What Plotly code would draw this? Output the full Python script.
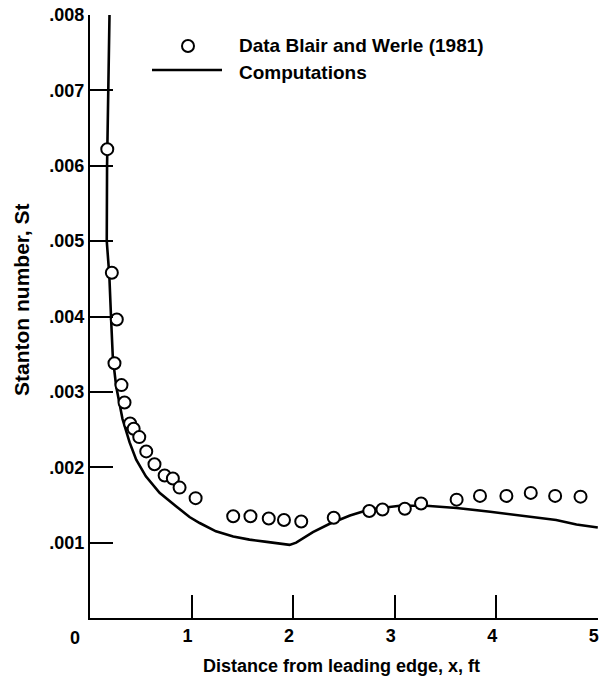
import plotly.graph_objects as go

# Experimental data, Blair and Werle (1981)
data_x = [0.17, 0.215, 0.264, 0.241, 0.31, 0.34, 0.395, 0.43, 0.485, 0.554, 0.635,
          0.735, 0.816, 0.882, 1.04, 1.41, 1.58, 1.76, 1.91, 2.08, 2.40, 2.75, 2.88,
          3.10, 3.26, 3.61, 3.84, 4.10, 4.34, 4.58, 4.83]
data_st = [0.00622, 0.00458, 0.00396, 0.00338, 0.00309, 0.00286, 0.00258, 0.00251,
           0.00240, 0.00221, 0.00204, 0.00189, 0.00185, 0.00173, 0.00159, 0.00135,
           0.00135, 0.00132, 0.00130, 0.00128, 0.00133, 0.00142, 0.00144, 0.00145,
           0.00152, 0.00157, 0.00162, 0.00162, 0.00166, 0.00162, 0.00161]

# Computations
comp_x = [0.192, 0.178, 0.168, 0.165, 0.19, 0.21, 0.225, 0.258, 0.32, 0.39, 0.455,
          0.55, 0.685, 0.85, 0.98, 1.08, 1.24, 1.41, 1.57, 1.74, 1.965, 2.03, 2.195,
          2.36, 2.56, 2.75, 3.05, 3.31, 3.61, 3.94, 4.26, 4.59, 4.79, 5.0]
comp_st = [0.0080, 0.0070, 0.0060, 0.0050, 0.00455, 0.00390, 0.00345, 0.00307,
           0.00264, 0.00233, 0.00210, 0.00188, 0.00166, 0.00148, 0.00134, 0.00126,
           0.00115, 0.00108, 0.00104, 0.00101, 0.00097, 0.00100, 0.00114, 0.00125,
           0.00136, 0.00144, 0.00149, 0.00149, 0.00146, 0.00141, 0.00136, 0.00130,
           0.00124, 0.00120]

y_ticks = [0.001, 0.002, 0.003, 0.004, 0.005, 0.006, 0.007, 0.008]
y_ticktext = [".001", ".002", ".003", ".004", ".005", ".006", ".007", ".008"]
x_ticks = [1, 2, 3, 4, 5]
x_ticktext = ["1", "2", "3", "4", "5"]

FONT = "Liberation Sans"
W, H = 601, 678
ML, MR, MT, MB = 90, 3, 15, 60
PW, PH = W - ML - MR, H - MT - MB


def px(xpix):
    return (xpix - ML) / PW


def py(ypix):
    return (H - MB - ypix) / PH


def bold(size):
    return dict(family=FONT, size=size, color="black", weight="bold")


fig = go.Figure()
fig.add_trace(go.Scatter(x=comp_x, y=comp_st, mode="lines",
                         line=dict(color="black", width=2.6),
                         name="Computations", showlegend=False))
fig.add_trace(go.Scatter(x=data_x, y=data_st, mode="markers",
                         marker=dict(symbol="circle", size=12, color="white",
                                     line=dict(color="black", width=2)),
                         name="Data Blair and Werle (1981)", showlegend=False,
                         cliponaxis=False))

axis_common = dict(showgrid=False, zeroline=False, showline=True, linecolor="black",
                   linewidth=2, ticks="inside", ticklen=23, tickwidth=2,
                   tickcolor="black", mirror=False, automargin=False,
                   ticklabeloverflow="allow")

fig.update_xaxes(range=[0, 5.002], tickvals=x_ticks, ticktext=x_ticktext,
                 tickfont=bold(18), ticklabelshift=-4, **axis_common)
fig.update_yaxes(range=[0, 0.008], tickvals=y_ticks, ticktext=y_ticktext,
                 tickfont=bold(18), **axis_common)

annotations = [
    dict(text="0", x=px(75), y=py(638), xref="paper", yref="paper", showarrow=False,
         xanchor="center", yanchor="middle", font=bold(18)),
    dict(text="Distance from leading edge, x, ft", x=px(341), y=py(666),
         xref="paper", yref="paper", showarrow=False, xanchor="center",
         yanchor="middle", font=bold(18)),
    dict(text="Stanton number, St", x=px(21), y=py(300), xref="paper", yref="paper",
         showarrow=False, xanchor="center", yanchor="middle", textangle=-90,
         font=bold(21)),
    dict(text="Data Blair and Werle (1981)", x=px(237), y=py(46), xref="paper",
         yref="paper", showarrow=False, xanchor="left", yanchor="middle",
         font=bold(19)),
    dict(text="Computations", x=px(237), y=py(72), xref="paper", yref="paper",
         showarrow=False, xanchor="left", yanchor="middle", font=bold(19)),
]

shapes = [
    dict(type="line", xref="paper", yref="paper", x0=px(152), x1=px(222),
         y0=py(70), y1=py(70), line=dict(color="black", width=2.6)),
    dict(type="circle", xref="paper", yref="paper", x0=px(182), x1=px(194),
         y0=py(52), y1=py(40), line=dict(color="black", width=2), fillcolor="white"),
]

fig.update_layout(width=W, height=H, margin=dict(l=ML, r=MR, t=MT, b=MB),
                  paper_bgcolor="white", plot_bgcolor="white",
                  font=dict(family=FONT, color="black"),
                  annotations=annotations, shapes=shapes, showlegend=False)

fig.write_html("out.html", config={"displayModeBar": False},
               post_script="document.body.style.margin='0';"
                           "document.body.style.overflow='hidden';")
